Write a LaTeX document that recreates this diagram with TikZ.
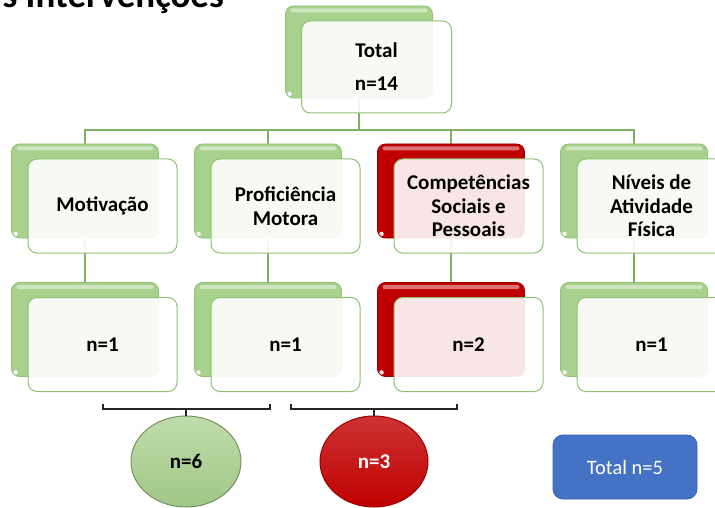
\documentclass[tikz,border=0pt]{standalone}
\usepackage{fontspec}
\setmainfont{Carlito}
\usetikzlibrary{shapes.geometric,backgrounds}

\definecolor{leafgreen}{HTML}{A9D18E}
\definecolor{leafedge}{HTML}{8FC173}
\definecolor{linkgreen}{HTML}{7FAF60}
\definecolor{alertred}{HTML}{C00000}
\definecolor{alertedge}{HTML}{9A0000}
\definecolor{panelblue}{HTML}{4472C4}
\definecolor{paneledge}{HTML}{3A64AE}

\newcommand\cardfont{\bfseries\fontsize{21}{23.5}\selectfont}

\tikzset{
  gloss/.style={path picture={
      \fill[white, opacity=0.45, rounded corners=2pt]
        ([shift={(5pt,-2.5pt)}]path picture bounding box.north west)
        rectangle ([shift={(-5pt,-6.5pt)}]path picture bounding box.north east);
      \fill[white, opacity=0.9]
        ([shift={(4pt,4pt)}]path picture bounding box.south west) circle (2.3pt);
  }},
  backcard/.style={rounded corners=8pt, minimum width=147pt, minimum height=94pt,
    inner sep=0pt, fill=leafgreen, draw=leafedge, line width=0.8pt, gloss},
  backred/.style={backcard, fill=alertred, draw=alertedge},
  frontcard/.style={rounded corners=9pt, minimum width=149pt, minimum height=94pt,
    inner sep=2pt, fill=white, fill opacity=0.9, text opacity=1, draw=leafedge,
    line width=1pt, align=center, font=\cardfont, text=black},
  link/.style={draw=linkgreen, line width=1.2pt},
  bracket/.style={draw=black!85, line width=1.5pt},
  tally/.style={ellipse, minimum width=110pt, minimum height=91pt, inner sep=0pt,
    line width=1pt, font=\cardfont},
}

\begin{document}
\begin{tikzpicture}[x=1pt, y=-1pt]
  \clip (0,0) rectangle (715,508);
  \useasboundingbox (0,0) rectangle (715,508);

  % heading, partly above the page edge
  \node[anchor=base east, inner sep=0pt, font=\bfseries\fontsize{37}{40}\selectfont]
    (title) at (224,7.5) {s Intervenções};

  % root
  \node[backcard, minimum height=92pt] (tb) at (359,52) {};
  \node[frontcard, minimum width=150pt, minimum height=92pt] (tf) at (376.5,67)
    {Total\\[9.5pt]n=14};

  % categories
  \node[backcard] (b1) at (85,191) {};
  \node[frontcard] (f1) at (102.5,206) {Motivação};
  \node[backcard] (b2) at (268,191) {};
  \node[frontcard] (f2) at (285.5,206) {Proficiência\\Motora};
  \node[backred] (b3) at (451,191) {};
  \node[frontcard] (f3) at (468.5,206) {Competências\\Sociais e\\Pessoais};
  \node[backcard] (b4) at (634,191) {};
  \node[frontcard] (f4) at (651.5,206) {Níveis de\\Atividade\\Física};

  % counts
  \node[backcard] (c1) at (85,329.5) {};
  \node[frontcard] (g1) at (102.5,344.5) {n=1};
  \node[backcard] (c2) at (268,329.5) {};
  \node[frontcard] (g2) at (285.5,344.5) {n=1};
  \node[backred] (c3) at (451,329.5) {};
  \node[frontcard] (g3) at (468.5,344.5) {n=2};
  \node[backcard] (c4) at (634,329.5) {};
  \node[frontcard] (g4) at (651.5,344.5) {n=1};

  % tree connectors behind the cards
  \coordinate (bus) at (359,130);
  \begin{pgfonlayer}{background}
    \draw[link] (tb.south) -- (bus);
    \draw[link] (bus) -| (b1.north);
    \draw[link] (bus) -| (b2.north);
    \draw[link] (bus) -| (b3.north);
    \draw[link] (bus) -| (b4.north);
    \draw[link] (b1.south) -- (c1.north);
    \draw[link] (b2.south) -- (c2.north);
    \draw[link] (b3.south) -- (c3.north);
    \draw[link] (b4.south) -- (c4.north);
  \end{pgfonlayer}

  % grouped totals
  \node[tally, top color=leafgreen!75!white, bottom color=leafgreen!95!black,
        draw=leafgreen!70!black] (e1) at (186,461.5) {n=6};
  \node[tally, minimum width=108pt, top color=alertred!80!white, bottom color=alertred,
        draw=alertedge, text=white] (e2) at (374,461.5) {n=3};

  \coordinate (k1l) at (103,404);
  \coordinate (k1r) at (270,404);
  \coordinate (k2l) at (291,404);
  \coordinate (k2r) at (457,404);
  \draw[bracket] (k1l) -- ++(0,5) -| (k1r);
  \draw[bracket] (e1.north) -- ++(0,-7);
  \draw[bracket] (k2l) -- ++(0,5) -| (k2r);
  \draw[bracket] (e2.north) -- ++(0,-7);

  % overall total
  \node[rounded corners=10pt, minimum width=144pt, minimum height=64pt,
        fill=panelblue, draw=paneledge, line width=0.8pt, text=white,
        font=\fontsize{20.5}{24}\selectfont] (sum) at (625,467) {Total n=5};
\end{tikzpicture}
\end{document}
